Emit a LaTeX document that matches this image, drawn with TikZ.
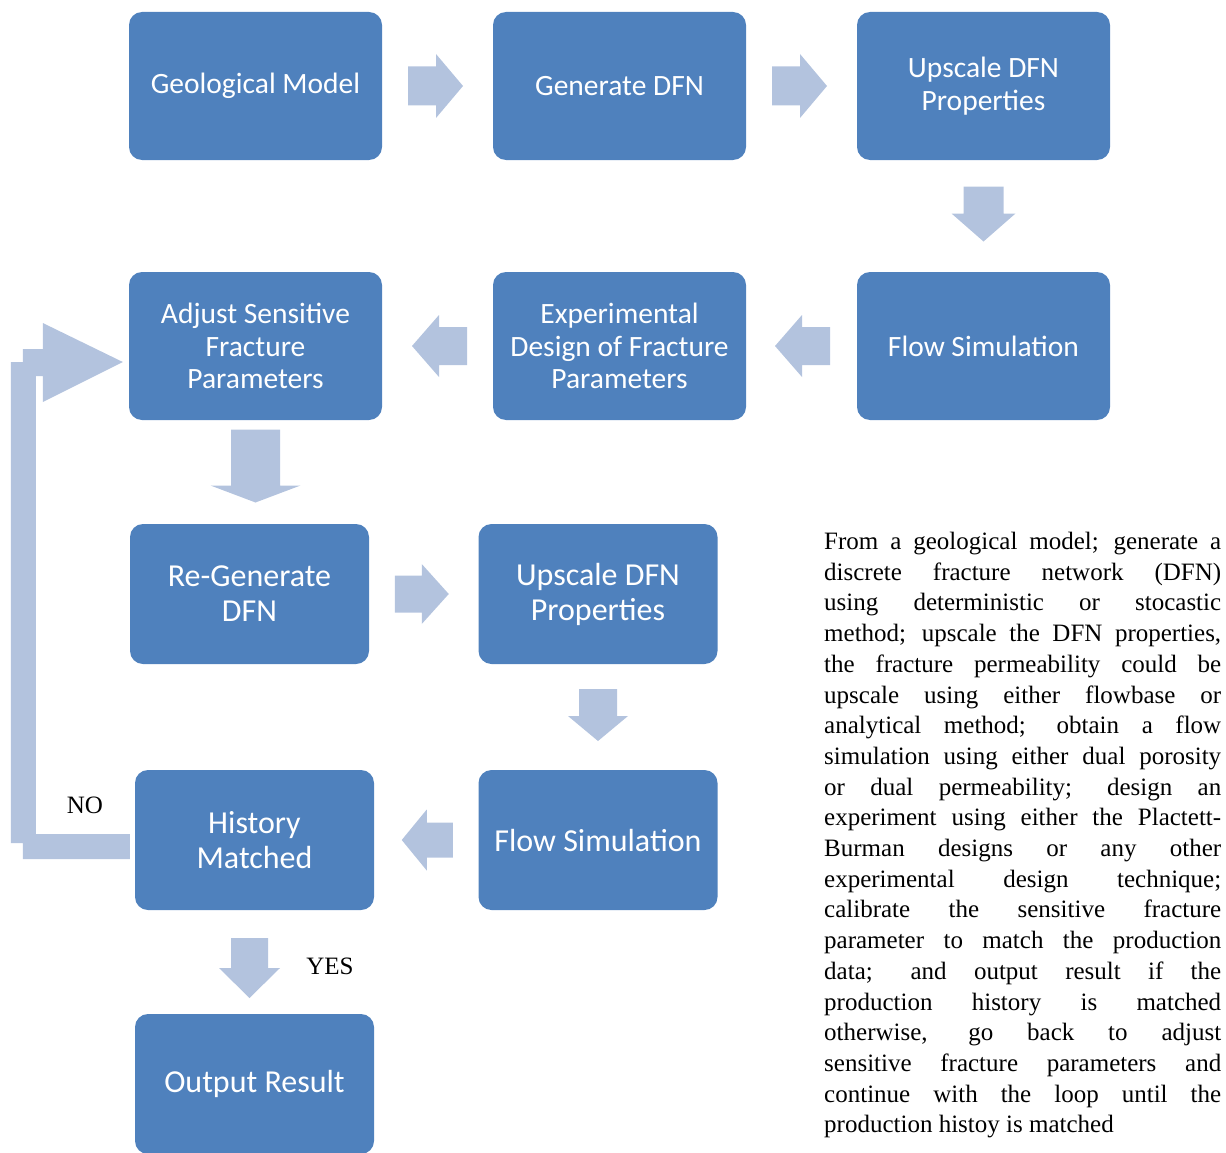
\documentclass[tikz,border=0pt]{standalone}
\usepackage{fontspec}
\setmainfont{Liberation Serif}
\newfontfamily\boxfont{Carlito}
\usetikzlibrary{calc}
\tolerance=10000
\hyphenpenalty=10000

\begin{document}
\begin{tikzpicture}[x=1pt, y=-1pt,
  flowbox/.style={fill=boxblue, rounded corners=13pt, text=white, align=center,
    minimum width=253pt, minimum height=148pt, inner sep=0pt,
    font=\boxfont\fontsize{29.5}{32.5}\selectfont},
  bigbox/.style={flowbox, minimum width=239pt, minimum height=140pt,
    font=\boxfont\fontsize{32}{35}\selectfont},
  pics/blockarrow/.style n args={4}{code={
    \fill[arrowblue] (-#1/2,-#2/2) -- (#1/2-#4,-#2/2) -- (#1/2-#4,-#3/2) -- (#1/2,0)
      -- (#1/2-#4,#3/2) -- (#1/2-#4,#2/2) -- (-#1/2,#2/2) -- cycle;
  }}
]

% Colours of the boxes and the block arrows
\definecolor{boxblue}{RGB}{79,129,189}
\definecolor{arrowblue}{RGB}{179,195,222}

\useasboundingbox (0,0) rectangle (1226,1153);

% Row 1
\node[flowbox] (geo) at (255.5,86) {Geological Model};
\node[flowbox] (gen) at (619.5,86) {Generate DFN};
\node[flowbox] (ups) at (983.5,86) {Upscale DFN\\Properties};

% Row 2
\node[flowbox] (adj) at (255.5,346) {Adjust Sensitive\\Fracture\\Parameters};
\node[flowbox] (exp) at (619.5,346) {Experimental\\Design of Fracture\\Parameters};
\node[flowbox] (flow) at (983.5,346) {Flow Simulation};

% Rows 3 to 5
\node[bigbox] (regen) at (249.5,594) {Re-Generate\\DFN};
\node[bigbox] (ups2) at (598,594) {Upscale DFN\\Properties};
\node[bigbox] (hist) at (254.5,840) {History\\Matched};
\node[bigbox] (flow2) at (598,840) {Flow Simulation};
\node[bigbox] (out) at (254.5,1084) {Output Result};

% Block arrows between the boxes (from/to/angle/shift x/shift y/length/shaft/head/tip)
\foreach \from/\to/\ang/\dx/\dy/\alen/\ashaft/\ahead/\atip in {
  geo.east/gen.west/0/-2/0/55/39/64/27,
  gen.east/ups.west/0/-2/0/55/39/64/27,
  ups.south/flow.north/-90/0/-2/55/40/64/28,
  flow.west/exp.east/180/1/0/55/38/62/27,
  exp.west/adj.east/180/2/0/55/38/62/27,
  adj.south/regen.north/-90/3/-6/73/49/90/17,
  regen.east/ups2.west/0/-2/0/54/37/60/27,
  ups2.south/flow2.north/-90/0/-2/52/38/60/25,
  flow2.west/hist.east/180/1/0/51/35/61/25,
  hist.south/out.north/-90/-5/6/60/37/61/30} {
  \pic[rotate=\ang] at ($(\from)!0.5!(\to)+(\dx,\dy)$) {blockarrow={\alen}{\ashaft}{\ahead}{\atip}};
}

% Loop back from History Matched to Adjust Sensitive Fracture Parameters
\coordinate (loopstart) at ($(hist.west)+(-5,0)$);
\coordinate (looptip) at ($(adj.west)+(-6,16)$);
\fill[arrowblue] ($(loopstart)+(0,-6)$) -- ($(loopstart)+(-94,-6)$)
  -- ($(looptip)+(-87,14)$) -- ($(looptip)+(-80,14)$) -- ($(looptip)+(-80,40)$)
  -- (looptip) -- ($(looptip)+(-80,-39)$) -- ($(looptip)+(-80,-13)$)
  -- ($(looptip)+(-100,-13)$) -- ($(looptip)+(-100,0)$) -- ($(looptip)+(-112,0)$)
  -- ($(loopstart)+(-119,3)$) -- ($(loopstart)+(-107,3)$) -- ($(loopstart)+(-107,19)$)
  -- ($(loopstart)+(0,19)$) -- cycle;

% Decision labels
\node[font=\fontsize{25}{30}\selectfont] (nolabel) at (85,805) {NO};
\node[font=\fontsize{25}{30}\selectfont] (yeslabel) at (330,966) {YES};

% Description
\node[anchor=north west, text width=397pt, align=justify, inner sep=0pt,
  font=\fontsize{25}{30.7}\selectfont] (desc) at (824,532) {
From a geological model; generate a\linebreak
discrete fracture network (DFN)\linebreak
using deterministic or stocastic\linebreak
method; upscale the DFN properties,\linebreak
the fracture permeability could be\linebreak
upscale using either flowbase or\linebreak
analytical method; obtain a flow\linebreak
simulation using either dual porosity\linebreak
or dual permeability; design an\linebreak
experiment using either the Plactett-\linebreak
Burman designs or any other\linebreak
experimental design technique;\linebreak
calibrate the sensitive fracture\linebreak
parameter to match the production\linebreak
data; and output result if the\linebreak
production history is matched\linebreak
otherwise, go back to adjust\linebreak
sensitive fracture parameters and\linebreak
continue with the loop until the\linebreak
production histoy is matched};

\end{tikzpicture}
\end{document}
